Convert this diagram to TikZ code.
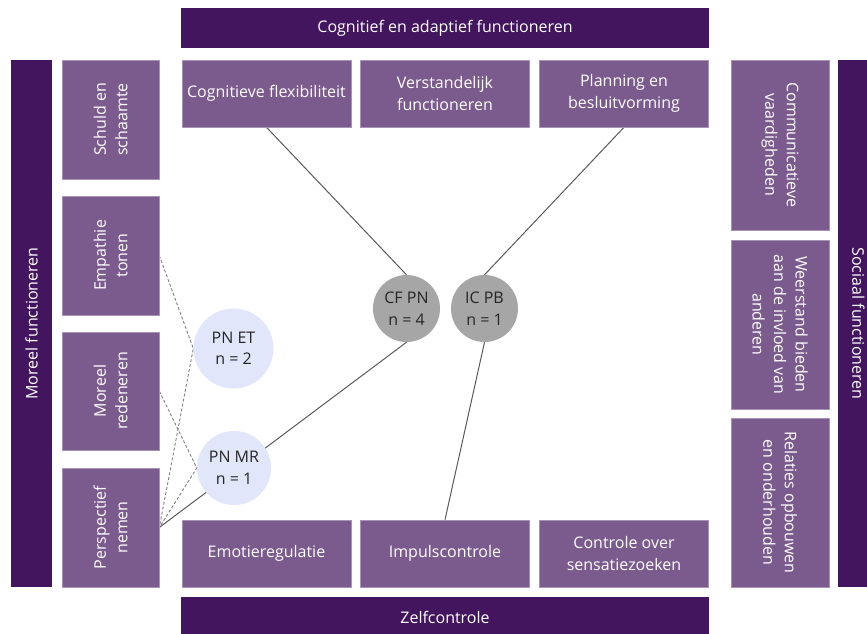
\documentclass[tikz,border=0pt]{standalone}
\usepackage{fontspec}
\setmainfont{Open Sans}
\usetikzlibrary{backgrounds}
\definecolor{darkpurple}{HTML}{42155E}
\definecolor{boxpurple}{HTML}{7B5A8D}
\definecolor{boxedge}{HTML}{A892B6}
\definecolor{circgray}{HTML}{A6A6A6}
\definecolor{circblue}{HTML}{E1E6FB}
\definecolor{linegray}{HTML}{595959}

\begin{document}
\begin{tikzpicture}[
        x=1pt, y=-1pt,
        every node/.style={
            font=\fontsize{16}{21.5}\selectfont,
            align=center,
            inner sep=0pt
        },
        bar/.style={fill=darkpurple, text=white},
        box/.style={fill=boxpurple, draw=boxedge, line width=0.6pt, text=white},
        hbox/.style={box, minimum width=169pt, minimum height=67pt},
        lbox/.style={box, minimum width=97pt},
        rbox/.style={box, minimum width=98pt},
        lefttext/.style={rotate=90, text=white},
        righttext/.style={rotate=-90, text=white},
        result/.style={circle, text=black!85},
        link/.style={draw=linegray, line width=1pt},
        weaklink/.style={draw=black!50, line width=0.9pt, dash pattern=on 3pt off 2pt}
    ]
    \useasboundingbox (0,0) rectangle (867,634);

    % top and bottom
    \node[bar, minimum width=528pt, minimum height=40pt] (cogbar) at (445,28) {Cognitief en adaptief functioneren};
    \node[hbox] (cogflex) at (266.5,93.5) {Cognitieve flexibiliteit};
    \node[hbox] (verstand) at (445,93.5) {Verstandelijk\\functioneren};
    \node[hbox] (planning) at (624,93.5) {Planning en\\besluitvorming};
    \node[hbox] (emotie) at (266.5,553.5) {Emotieregulatie};
    \node[hbox] (impuls) at (445,553.5) {Impulscontrole};
    \node[hbox] (sensatie) at (624,553.5) {Controle over\\sensatiezoeken};
    \node[bar, minimum width=528pt, minimum height=40pt] (zelfbar) at (445,617) {Zelfcontrole};

    % left side
    \node[bar, minimum width=41pt, minimum height=527pt] (moreelbar) at (31.5,323.5) {};
    \node[lefttext] (moreelbar-t) at (moreelbar) {Moreel functioneren};
    \node[lbox, minimum height=119pt] (schuld) at (110.5,119.5) {};
    \node[lefttext] (schuld-t) at (schuld) {Schuld en\\schaamte};
    \node[lbox, minimum height=119pt] (empathie) at (110.5,255.5) {};
    \node[lefttext] (empathie-t) at (empathie) {Empathie\\tonen};
    \node[lbox, minimum height=118pt] (redeneren) at (110.5,391) {};
    \node[lefttext] (redeneren-t) at (redeneren) {Moreel\\redeneren};
    \node[lbox, minimum height=119pt] (perspectief) at (110.5,527.5) {};
    \node[lefttext] (perspectief-t) at (perspectief) {Perspectief\\nemen};

    % right side
    \node[bar, minimum width=41pt, minimum height=527pt] (sociaalbar) at (858.5,323.5) {};
    \node[righttext] (sociaalbar-t) at (sociaalbar) {Sociaal functioneren};
    \node[rbox, minimum height=170pt] (communicatie) at (780,145) {};
    \node[righttext] (communicatie-t) at (communicatie) {Communicatieve\\vaardigheden};
    \node[rbox, minimum height=169pt] (weerstand) at (780,324.5) {};
    \node[righttext] (weerstand-t) at (weerstand) {Weerstand bieden\\aan de invloed van\\anderen};
    \node[rbox, minimum height=169pt] (relaties) at (780,502.5) {};
    \node[righttext] (relaties-t) at (relaties) {Relaties opbouwen\\en onderhouden};

    % results
    \node[result, fill=circgray, minimum size=67pt] (cfpn) at (406.5,308.5) {CF PN\\n = 4};
    \node[result, fill=circgray, minimum size=67pt] (icpb) at (484.5,308.5) {IC PB\\n = 1};
    \node[result, fill=circblue, minimum size=80pt] (pnet) at (233.5,348.5) {PN ET\\n = 2};
    \node[result, fill=circblue, minimum size=74pt] (pnmr) at (234,468) {PN MR\\n = 1};

    \begin{pgfonlayer}{background}
        \draw[link] (cogflex.south) -- (cfpn.north);
        \draw[link] (planning.south) -- (icpb.north);
        \draw[link] (icpb.south) -- (impuls.north);
        \draw[link] (cfpn.south) -- (perspectief.east);
        \draw[weaklink] (empathie.east) -- (pnet.west) -- (perspectief.east);
        \draw[weaklink] (redeneren.east) -- (pnmr.west) -- (perspectief.east);
    \end{pgfonlayer}
\end{tikzpicture}
\end{document}
